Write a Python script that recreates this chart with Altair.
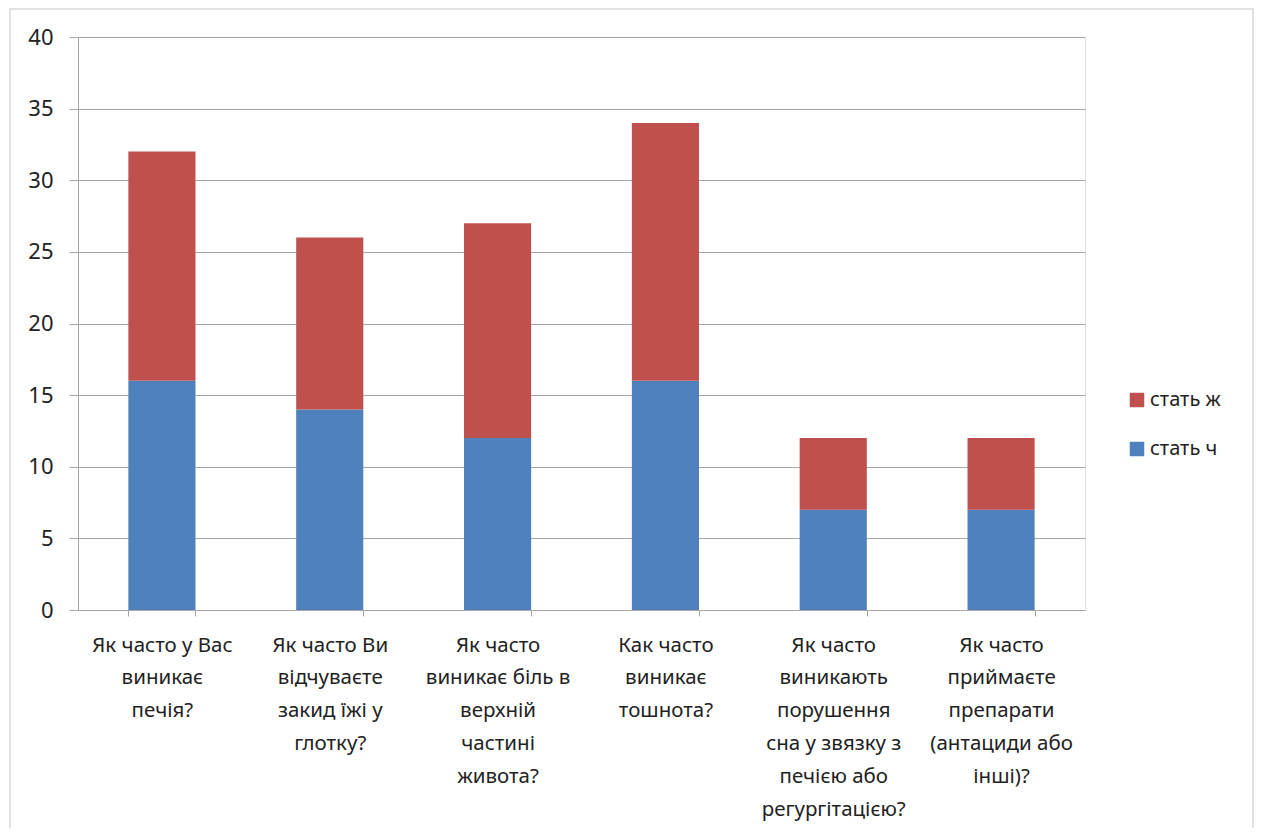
import altair as alt
import pandas as pd

categories = [
    "Як часто у Вас\nвиникає\nпечія?",
    "Як часто Ви\nвідчуваєте\nзакид їжі у\nглотку?",
    "Як часто\nвиникає біль в\nверхній\nчастині\nживота?",
    "Как часто\nвиникає\nтошнота?",
    "Як часто\nвиникають\nпорушення\nсна у звязку з\nпечією або\nрегургітацією?",
    "Як часто\nприймаєте\nпрепарати\n(антациди або\nінші)?",
]
male = [16, 14, 12, 16, 7, 7]
female = [16, 12, 15, 18, 5, 5]
series = ["стать ж", "стать ч"]
colors = ["#C0504D", "#4F81BD"]

rows = []
for i, c in enumerate(categories):
    rows.append({"cat": c, "series": "стать ч", "value": male[i], "ord": 0})
    rows.append({"cat": c, "series": "стать ж", "value": female[i], "ord": 1})
df = pd.DataFrame(rows)

FONT = "Noto Sans"
GRID = "#a6a6a6"

bars = alt.Chart(df).mark_bar().encode(
    x=alt.X("cat:N", sort=categories,
            scale=alt.Scale(paddingInner=0.6, paddingOuter=0.3),
            axis=alt.Axis(title=None, labelAngle=0,
                          labelExpr="datum.value ? split(datum.value, '\\n') : ''",
                          labelFontSize=20.5, labelLineHeight=32.8, labelPadding=29,
                          labelBaseline="middle", labelLimit=300, labelColor="#222",
                          labelFont=FONT, tickBand="extent", tickSize=6,
                          tickColor=GRID, domainColor=GRID, grid=False)),
    y=alt.Y("value:Q", stack="zero",
            scale=alt.Scale(domain=[0, 40], nice=False),
            axis=alt.Axis(title=None, values=list(range(0, 41, 5)), labelFontSize=22,
                          labelFont=FONT, labelColor="#222", labelPadding=16, tickSize=9,
                          tickColor=GRID, domainColor=GRID, gridColor=GRID)),
    color=alt.Color("series:N", scale=alt.Scale(domain=series, range=colors),
                    legend=alt.Legend(title=None, orient="none", legendX=1049, legendY=353,
                                      symbolType="square", symbolSize=210, symbolStrokeWidth=0,
                                      labelFontSize=20, labelFont=FONT, labelColor="#222",
                                      rowPadding=29, labelOffset=3)),
    order=alt.Order("ord:Q", sort="ascending"),
)

border = alt.Chart(pd.DataFrame({"a": [0]})).mark_rect(
    fill="transparent", stroke="#d9d9d9", strokeWidth=1.5
).encode(
    x=alt.value(-68), x2=alt.value(1175), y=alt.value(-28), y2=alt.value(900)
)

chart = alt.layer(border, bars).properties(
    width=1007, height=573,
    autosize=alt.AutoSizeParams(type="none"),
    padding={"left": 70, "top": 29, "right": 169, "bottom": 218},
).configure_view(stroke=None).configure(background="white")

chart.save("out.html", embed_options={"renderer": "svg", "actions": False})
